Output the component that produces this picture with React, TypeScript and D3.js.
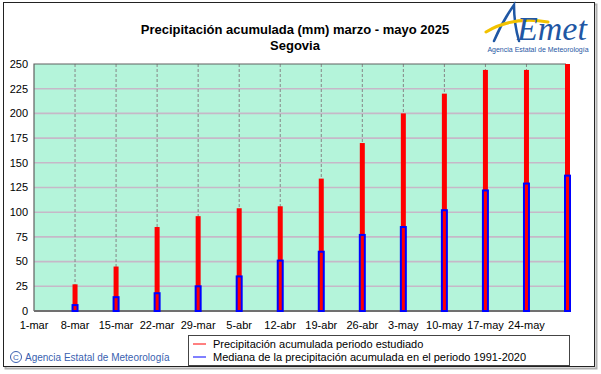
import React from "react";
import * as d3 from "d3";

// Fechas de corte semanal (acumulado hasta ese día)
const fechas = [
  "2025-03-08", "2025-03-15", "2025-03-22", "2025-03-29", "2025-04-05",
  "2025-04-12", "2025-04-19", "2025-04-26", "2025-05-03", "2025-05-10",
  "2025-05-17", "2025-05-24", "2025-05-31",
];
// Precipitación acumulada periodo estudiado (mm)
const acumulada = [27, 45, 85, 96, 104, 106, 134, 170, 200, 220, 244, 244, 250];
// Mediana de la precipitación acumulada 1991-2020 (mm)
const mediana = [6, 14, 18, 25, 35, 51, 60, 77, 85, 102, 122, 129, 137];

const tickFechas = [
  "2025-03-01", "2025-03-08", "2025-03-15", "2025-03-22", "2025-03-29",
  "2025-04-05", "2025-04-12", "2025-04-19", "2025-04-26", "2025-05-03",
  "2025-05-10", "2025-05-17", "2025-05-24",
];
const tickLabels = [
  "1-mar", "8-mar", "15-mar", "22-mar", "29-mar", "5-abr", "12-abr",
  "19-abr", "26-abr", "3-may", "10-may", "17-may", "24-may",
];
const yTicks = [0, 25, 50, 75, 100, 125, 150, 175, 200, 225, 250];

const titulo = "Precipitación acumulada (mm) marzo - mayo 2025";
const estacion = "Segovia";
const leyenda = [
  "Precipitación acumulada periodo estudiado",
  "Mediana de la precipitación acumulada en el periodo 1991-2020",
];

const font = "'Liberation Sans', Arial, sans-serif";

function App() {
  const W = 601;
  const H = 374;
  const left = 34;
  const right = 566;
  const top = 64;
  const bottom = 311;

  const parse = (s: string) => d3.utcParse("%Y-%m-%d")(s) as Date;
  const x = d3
    .scaleUtc()
    .domain([parse("2025-03-01"), parse("2025-05-31")])
    .range([left, 567.5]);
  const y = d3.scaleLinear().domain([0, 250]).range([bottom, top]);

  const redW = 5;
  const blueW = 5;

  return (
    <svg
      width={W}
      height={H}
      style={{ position: "absolute", left: 0, top: 0, background: "#fff" }}
      fontFamily={font}
    >
      {/* marco exterior */}
      <rect x={5.5} y={4.5} width={591} height={364} fill="none" stroke="#b0b0b0" strokeWidth={2} />
      <rect x={3.5} y={2.5} width={591} height={364} fill="#fff" stroke="#222" strokeWidth={1} />

      {/* título */}
      <text x={295} y={34} textAnchor="middle" fontSize={13} fontWeight="bold" fill="#000">
        {titulo}
      </text>
      <text x={295} y={50} textAnchor="middle" fontSize={13} fontWeight="bold" fill="#000">
        {estacion}
      </text>

      {/* logo AEMET */}
      <g>
        <path d="M494 41 Q502 22 514 5 Q514 24 519 41" fill="none" stroke="#1f57a4" strokeWidth={2.5} strokeLinecap="round" />
        <path d="M486 32 Q512 16 548 22" fill="none" stroke="#f2c200" strokeWidth={3} strokeLinecap="round" />
        <text x={517} y={40} fontSize={34} fontStyle="italic" fill="#1f57a4" fontFamily="'Liberation Serif', serif">
          Emet
        </text>
        <text x={538} y={52} textAnchor="middle" fontSize={7} fill="#1f57a4">
          Agencia Estatal de Meteorología
        </text>
      </g>

      {/* área del gráfico */}
      <rect x={left} y={top} width={right - left} height={bottom - top} fill="#b4f4da" />
      {yTicks.slice(1, -1).map((t) => (
        <line key={"h" + t} x1={left} x2={right} y1={y(t)} y2={y(t)} stroke="#c6b8c8" strokeWidth={1.6} />
      ))}
      {tickFechas.slice(1).map((d) => (
        <line
          key={"v" + d}
          x1={x(parse(d))}
          x2={x(parse(d))}
          y1={top}
          y2={bottom}
          stroke="#858585"
          strokeWidth={1}
          strokeDasharray="3,2"
        />
      ))}
      <path
        d={`M${left},${bottom} L${left},${top} L${right},${top}`}
        fill="none"
        stroke="#606060"
        strokeWidth={1.2}
      />
      <line x1={left} x2={right} y1={bottom} y2={bottom} stroke="#707070" strokeWidth={2} />

      {/* barras */}
      {fechas.map((d, i) => {
        const cx = x(parse(d));
        const v = Math.min(acumulada[i], 250);
        return (
          <rect key={"r" + d} x={cx - redW / 2} y={y(v)} width={redW} height={y(0) - y(v)} fill="#ff0000" />
        );
      })}
      {fechas.map((d, i) => {
        const cx = x(parse(d));
        return (
          <rect
            key={"b" + d}
            x={cx - blueW / 2}
            y={y(mediana[i])}
            width={blueW}
            height={y(0) - y(mediana[i])}
            fill="none"
            stroke="#0000ff"
            strokeWidth={2}
          />
        );
      })}

      {/* eje Y */}
      {yTicks.map((t) => (
        <text key={"yt" + t} x={28} y={y(t)} dy="0.35em" textAnchor="end" fontSize={11} fill="#000">
          {t}
        </text>
      ))}

      {/* eje X */}
      {tickFechas.map((d, i) => (
        <text key={"xt" + d} x={x(parse(d))} y={329} textAnchor="middle" fontSize={11} fill="#000">
          {tickLabels[i]}
        </text>
      ))}

      {/* leyenda */}
      <rect x={188.5} y={335.5} width={381} height={30} fill="#fff" stroke="#444" strokeWidth={1} />
      <line x1={193} x2={206} y1={344} y2={344} stroke="#ff0000" strokeWidth={1} />
      <line x1={193} x2={206} y1={357} y2={357} stroke="#0000ff" strokeWidth={1} />
      <text x={213} y={348} fontSize={11} fill="#000">{leyenda[0]}</text>
      <text x={213} y={361} fontSize={11} fill="#000">{leyenda[1]}</text>

      {/* copyright */}
      <circle cx={16} cy={357} r={5.5} fill="none" stroke="#3a5fb0" strokeWidth={1} />
      <text x={16} y={360} textAnchor="middle" fontSize={8} fill="#3a5fb0">C</text>
      <text x={25} y={361} fontSize={10} fill="#3a5fb0">Agencia Estatal de Meteorología</text>
    </svg>
  );
}

export default App;
